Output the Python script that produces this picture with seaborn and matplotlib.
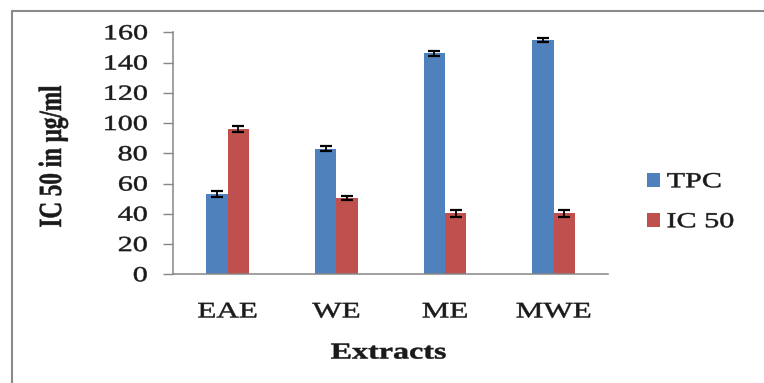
import numpy as np
import pandas as pd
import matplotlib
matplotlib.use("Agg")
import matplotlib.pyplot as plt
from matplotlib.lines import Line2D
from matplotlib.patheffects import AbstractPathEffect
from matplotlib.transforms import Affine2D
import seaborn as sns

# ---- data ----
extracts = ["EAE", "WE", "ME", "MWE"]
series_names = ["TPC", "IC 50"]
tpc = [53, 83, 146, 155]
tpc_err = [2.2, 1.8, 1.5, 1.5]
ic50 = [96, 50.5, 40.5, 40.5]
ic50_err = [2.0, 1.5, 2.3, 2.3]
y_ticks = [0, 20, 40, 60, 80, 100, 120, 140, 160]

df = pd.DataFrame({
    "Extract": extracts * 2,
    "Series": [series_names[0]] * len(extracts) + [series_names[1]] * len(extracts),
    "Value": tpc + ic50,
})
errors = {series_names[0]: tpc_err, series_names[1]: ic50_err}

blue = "#4F81BD"
red = "#C0504D"
axis_grey = "#868686"
ink = "#1a1a1a"


class WideType(AbstractPathEffect):
    """Draws glyph outlines widened horizontally about an anchor edge,
    with a hairline stroke to give the letters a little more weight."""

    def __init__(self, factor=1.4, anchor="center", stroke=0.35):
        super().__init__()
        self.factor = factor
        self.anchor = anchor
        self.stroke = stroke

    def draw_path(self, renderer, gc, tpath, affine, rgbFace=None):
        if len(tpath.vertices) == 0:
            return
        box = tpath.get_extents(affine)
        x0 = {"left": box.x0, "right": box.x1,
              "center": 0.5 * (box.x0 + box.x1)}[self.anchor]
        widened = affine + Affine2D().translate(-x0, 0).scale(self.factor, 1).translate(x0, 0)
        gc0 = renderer.new_gc()
        gc0.copy_properties(gc)
        gc0.set_linewidth(self.stroke)
        if rgbFace is not None:
            gc0.set_foreground(rgbFace)
        renderer.draw_path(gc0, tpath, widened, rgbFace)
        gc0.restore()


sns.set_style("white")
plt.rcParams["font.family"] = ["Liberation Serif", "DejaVu Serif"]

W, H = 764, 383
fig = plt.figure(figsize=(W / 100, H / 100), dpi=100)
ax = fig.add_axes([173.3 / W, 1 - 274.3 / H, 434.7 / W, 242 / H])

sns.barplot(data=df, x="Extract", y="Value", hue="Series", order=extracts,
            hue_order=series_names, palette=[blue, red], width=0.39,
            gap=0, saturation=1, errorbar=None, legend=True, ax=ax,
            edgecolor="none", linewidth=0)

# error bars on top of each bar
for name, container in zip(series_names, ax.containers):
    xs = [p.get_x() + p.get_width() / 2 for p in container.patches]
    ys = [p.get_height() for p in container.patches]
    ax.errorbar(xs, ys, yerr=errors[name], fmt="none", ecolor="black",
                elinewidth=1.3, capsize=4.3, capthick=1.6, zorder=5)

ax.set_ylim(0, 160)
ax.set_xlim(-0.5, len(extracts) - 0.5)
ax.set_yticks(y_ticks)
ax.set_yticklabels([str(t) for t in y_ticks])

for side in ["top", "right"]:
    ax.spines[side].set_visible(False)
for side in ["left", "bottom"]:
    ax.spines[side].set_color(axis_grey)
    ax.spines[side].set_linewidth(1.1)

ax.tick_params(axis="y", length=7, width=1.0, color=axis_grey, pad=11.5,
               labelsize=15.5, labelcolor=ink, left=True)
ax.tick_params(axis="x", length=0, pad=21, labelsize=16, labelcolor=ink)

ax.set_xlabel("Extracts", fontsize=16.5, fontweight="bold", color=ink)
ax.set_ylabel("IC 50 in µg/ml", fontsize=16.6, fontweight="bold", color=ink,
              va="center")
ax.xaxis.set_label_coords(0.495, -0.282)
ax.yaxis.set_label_coords(-0.276, 0.486)

for lbl in ax.get_yticklabels():
    lbl.set_path_effects([WideType(1.4, "right")])
for lbl in ax.get_xticklabels():
    lbl.set_path_effects([WideType(1.4, "center")])
ax.xaxis.label.set_path_effects([WideType(1.4, "center")])
ax.yaxis.label.set_path_effects([WideType(1.4, "center")])

leg = ax.legend(loc="center left", bbox_to_anchor=(647 / W, 1 - 202.5 / H),
                bbox_transform=fig.transFigure, frameon=False,
                fontsize=15.5, handlelength=0.62, handleheight=0.62,
                handletextpad=0.3, labelspacing=0.95, borderpad=0,
                borderaxespad=0)
for t in leg.get_texts():
    t.set_color(ink)
    t.set_path_effects([WideType(1.4, "left")])

# outer frame (left and top edges)
fig.add_artist(Line2D([12 / W, 12 / W], [0, 1 - 10.5 / H], transform=fig.transFigure,
                      color="#8a8a8a", linewidth=1.5))
fig.add_artist(Line2D([12 / W, 1], [1 - 10.5 / H, 1 - 10.5 / H], transform=fig.transFigure,
                      color="#8a8a8a", linewidth=1.5))

fig.savefig("out.png", dpi=100, facecolor="white")
